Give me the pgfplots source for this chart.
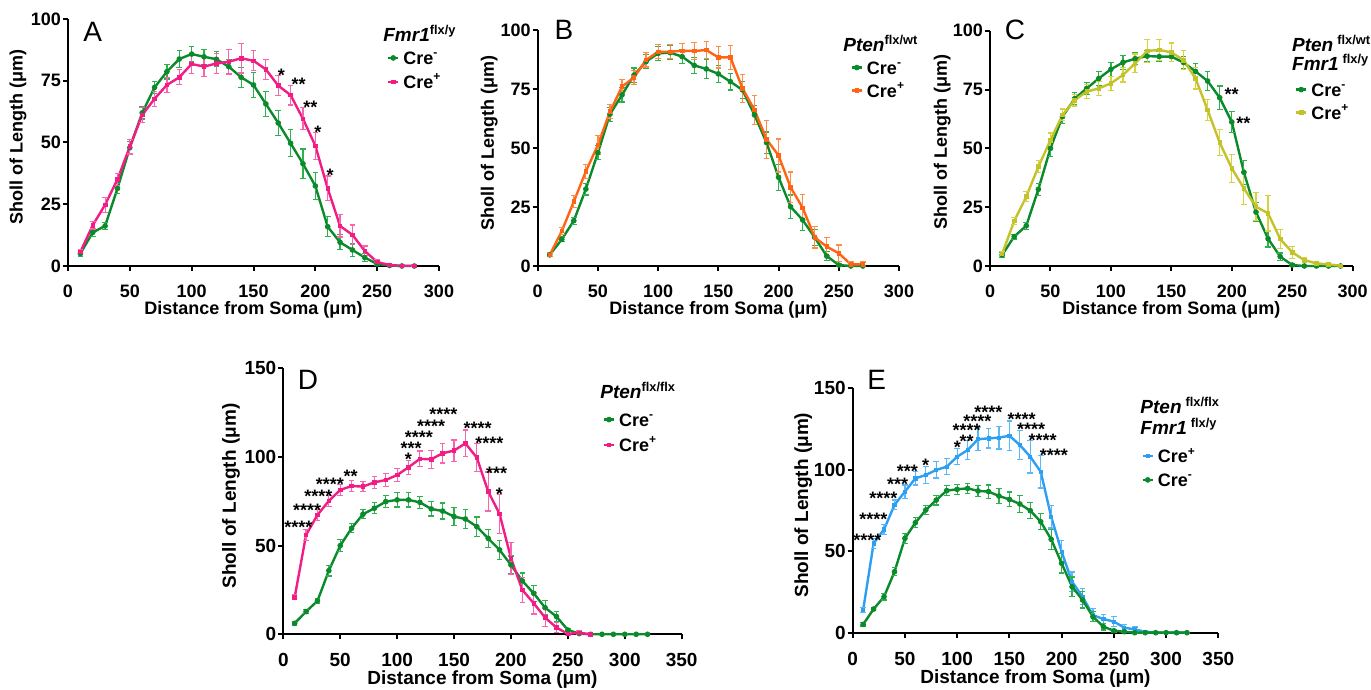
\documentclass[border=0pt]{standalone}
\usepackage{fontspec}
\setmainfont{Liberation Sans}
\usepackage{pgfplots}
\usepackage{pgfplotstable}
\pgfplotsset{compat=1.18}

\definecolor{gr}{HTML}{0B8A2C}
\definecolor{grl}{HTML}{2DB14F}
\definecolor{pk}{HTML}{F21C85}
\definecolor{pkl}{HTML}{F766AC}
\definecolor{orn}{HTML}{FF6414}
\definecolor{ornl}{HTML}{FF8C45}
\definecolor{yl}{HTML}{C4C22A}
\definecolor{yll}{HTML}{D6D33E}
\definecolor{bl}{HTML}{2C9FF2}
\definecolor{bll}{HTML}{5AB7FA}

% ---- data: x, mean, sem ----
\pgfplotstableread{
x y e
10 5.0 1
20 13.6 1.5
30 16.2 1.5
40 31.4 2
50 47.9 2.5
60 62.0 2.5
70 72.3 2.5
80 78.7 3
90 83.8 3.5
100 85.8 3
110 84.7 3
120 83.7 3
130 80.7 3
140 76.4 4
150 73.3 5
160 65.6 5
170 57.9 5
180 49.7 5.5
190 41.4 6
200 32.4 5.5
210 15.9 4
220 9.6 3
230 6.5 2.5
240 3.4 1.5
250 0.8 0.5
260 0.2 0.3
270 0 0.2
280 0 0.2
}\Agr
\pgfplotstableread{
x y e
10 5.7 1
20 16.5 1.5
30 24.8 3
40 35.1 2.5
50 48.3 3
60 61.1 3
70 67.7 3
80 73.3 3
90 76.4 3
100 81.8 4
110 80.7 4
120 82.0 4
130 82.7 5
140 84.1 6
150 83.1 4
160 79.6 4
170 73.0 4
180 69.2 4
190 59.6 4.5
200 48.7 5.5
210 31.4 5
220 16.2 4.5
230 12.6 4
240 6.1 2
250 1.6 1
260 0.4 0.5
270 0.1 0.3
280 0.1 0.3
}\Apk
\pgfplotstableread{
x y e
10 4.7 0.8
20 11.3 1
30 19.2 1.5
40 32.6 2.5
50 48.0 3
60 64.3 3
70 72.5 3
80 80.9 3
90 86.6 3
100 90.1 3
110 90.4 3
120 88.7 3
130 85.0 3.5
140 83.5 4
150 81.4 3.5
160 78.1 3.5
170 74.6 3.5
180 64.0 4
190 52.3 4.5
200 37.6 5.5
210 25.1 5
220 19.5 4.5
230 12.1 3.5
240 4.2 2
250 0.4 0.5
260 0 0.2
270 0 0.2
}\Bgr
\pgfplotstableread{
x y e
10 4.7 0.8
20 14.8 1.5
30 27.3 2.5
40 40.1 3
50 51.3 4
60 65.4 3
70 76.0 3
80 79.9 3
90 87.3 3
100 90.8 3
110 90.8 3
120 91.2 3
130 91.1 3.5
140 91.5 3.5
150 88.4 4.5
160 88.4 5
170 75.3 6
180 66.1 6
190 53.7 8
200 46.8 7
210 33.3 6.5
220 24.7 5.5
230 12.1 4.5
240 8.2 4
250 5.4 3.5
260 0.7 1
270 0.7 1
}\Bor
\pgfplotstableread{
x y e
10 4.7 1
20 12.5 1
30 17.1 1.5
40 32.6 2.5
50 50.0 3.5
60 63.5 3
70 71.1 2.5
80 75.5 2.5
90 79.7 3
100 83.6 3
110 86.5 3
120 88.1 2.5
130 89.2 2.5
140 89.0 2
150 89.0 2
160 86.5 2.5
170 82.7 3.5
180 78.6 4
190 71.5 5
200 61.2 4.5
210 39.8 5
220 22.9 4
230 11.6 3.5
240 4.0 1.5
250 0.4 0.5
260 0 0.2
270 0 0.2
280 0 0.2
290 0 0.2
}\Cgr
\pgfplotstableread{
x y e
10 5.1 1
20 19.1 1.5
30 29.5 2
40 42.2 2.5
50 53.5 3
60 64.2 2.5
70 70.5 2.5
80 74.1 3
90 75.5 3
100 77.6 3
110 81.2 3
120 86.1 4
130 91.4 5
140 91.8 4.5
150 90.8 4
160 87.5 4
170 79.7 4.5
180 66.3 4.5
190 52.4 5.5
200 41.5 6
210 33.0 7
220 25.2 6
230 22.4 7.5
240 11.5 4
250 5.8 2.5
260 2.5 1
270 1.1 0.5
280 0.7 0.5
290 0.1 0.3
}\Cyl
\pgfplotstableread{
x y e
10 6.2 1
20 12.8 1
30 18.8 1.5
40 35.9 3
50 50.0 3.5
60 59.8 2.5
70 67.7 2.5
80 71.1 3
90 74.8 3.5
100 75.8 4
110 75.8 4
120 74.4 3.5
130 70.7 4
140 69.5 4.5
150 66.4 5
160 65.0 5.5
170 60.7 5.5
180 54.1 5
190 47.6 5.5
200 39.1 5
210 30.1 4.5
220 23.1 4.5
230 15.0 4
240 10.0 3
250 2.4 1
260 0.4 0.5
270 0 0.2
280 0 0.2
290 0 0.2
300 0 0.2
310 0 0.2
320 0 0.2
}\Dgr
\pgfplotstableread{
x y e
10 20.9 1.5
20 56.0 3
30 67.3 3
40 75.2 3
50 81.4 3
60 83.6 3
70 83.3 3
80 85.7 3.5
90 87.0 3.5
100 89.8 3.5
110 94.2 4
120 98.9 4.5
130 98.7 5
140 102.1 5.5
150 103.6 6
160 107.7 7.5
170 99.6 8
180 80.5 11
190 67.9 11
200 42.9 9
210 25.0 7
220 17.5 6
230 9.4 5
240 3.8 3
250 0.2 1
260 0.9 1
270 0 0.3
}\Dpk
\pgfplotstableread{
x y e
10 13.9 1.5
20 54.8 3
30 63.4 3
40 78.4 3
50 86.6 4
60 94.7 4
70 96.8 5
80 99.9 5
90 101.9 5
100 108.0 5
110 112.1 6
120 118.7 7
130 119.3 6
140 119.7 7
150 120.9 9
160 115.2 9
170 108.0 10
180 98.8 10
190 71.2 7
200 49.7 7
210 31.3 6
220 22.1 5
230 10.8 4
240 8.4 3
250 6.8 3
260 3.1 2
270 2.0 1.5
280 0.6 0.5
290 0 0.3
300 0 0.2
310 0 0.2
320 0 0.2
}\Ebl
\pgfplotstableread{
x y e
10 5.1 1
20 14.5 1
30 22.1 2
40 37.4 2.5
50 57.9 3
60 67.5 3
70 75.3 3
80 81.4 3
90 87.2 3
100 88.0 3
110 88.6 3
120 87.0 3.5
130 86.6 4
140 83.9 4.5
150 81.8 4.5
160 79.0 5
170 74.9 5
180 68.1 5
190 57.3 6
200 42.6 6
210 28.2 6
220 20.1 5
230 9.8 3
240 3.7 2
250 1.2 1
260 0.6 0.5
270 0 0.2
280 0 0.2
290 0 0.2
300 0 0.2
310 0 0.2
320 0 0.2
}\Egr

\newcommand{\fs}[1]{\fontsize{#1}{#1}\selectfont}

\pgfplotsset{
  sholl/.style={
    scale only axis, clip=false,
    axis lines=left, axis line style={-, line width=1pt, black},
    tick align=outside, major tick length=2.5pt,
    every tick/.style={line width=1pt, black},
    xmin=0, ymin=0,
    /pgf/number format/assume math mode=true,
    ticklabel style={font=\fs{9}\bfseries},
    xticklabel style={yshift=-3.5pt},
    yticklabel style={xshift=2.5pt},
    label style={font=\fs{9}\bfseries},
    xlabel={Distance from Soma (μm)},
    ylabel={Sholl of Length (μm)},
    legend style={draw=none, fill=none, inner sep=0pt, outer sep=0pt,
      anchor=north west, font=\fs{9}\bfseries,
      cells={anchor=west, inner sep=0pt, text height=8pt, text depth=1pt},
      /tikz/every odd column/.append style={column sep=0pt}},
    legend image code/.code={%
      \draw[mark repeat=2, mark phase=2, #1] plot coordinates {(0pt,0pt) (2.5pt,0pt) (5pt,0pt)};},
  },
  ser/.style 2 args={color=#1, line width=1.2pt,
    mark options={solid, fill=#1, draw=#1, line width=0.4pt},
    /pgfplots/error bars/y dir=both, /pgfplots/error bars/y explicit,
    /pgfplots/error bars/error bar style={line width=0.6pt, color=#2},
    /pgfplots/error bars/error mark options={rotate=90, mark size=1.4pt, line width=0.6pt, color=#2}},
  gline/.style={ser={gr}{grl}, mark=*, mark size=1.2pt},
}
\tikzset{
  st/.style={font=\fs{9}\bfseries, anchor=base, yshift=-5pt, inner sep=0pt},
  ttl/.style={font=\fs{9.5}\bfseries\itshape, anchor=base west, inner sep=0pt},
  let/.style={font=\fs{14}, inner sep=0pt},
}
\newcommand{\supx}[1]{\textsuperscript{\upshape #1}}
\newcommand{\supt}[1]{\raisebox{3.6pt}{\fs{6.4}\bfseries\upshape #1}}

\begin{document}
\begin{tikzpicture}
\useasboundingbox (0,0) rectangle (685.5pt,345pt);

% ---------------- A ----------------
\begin{axis}[sholl, at={(34pt,212pt)}, width=185.5pt, height=123.5pt,
  xmax=300, ymax=100, xtick={0,50,...,300}, ytick={0,25,...,100},
  xlabel style={at={(axis description cs:0.5,-0.178)}, anchor=center},
  ylabel style={at={(axis description cs:-0.135,0.524)}, anchor=center},
  legend style={at={(0.860,0.897)}, row sep=-1.5pt}]
\addplot[gline] table[x=x, y=y, y error=e] {\Agr};
\addlegendentry{Cre\supx{-}}
\addplot[ser={pk}{pkl}, mark=square*, mark size=0.9pt] table[x=x, y=y, y error=e] {\Apk};
\addlegendentry{Cre\supx{+}}
\node[let] at (rel axis cs:0.0666,0.949) {A};
\node[ttl] at (rel axis cs:0.849,0.908) {Fmr1\supt{flx/y}};
\node[st] at (axis cs:172.5,78.7) {*};
\node[st] at (axis cs:186.5,75) {**};
\node[st] at (axis cs:196,65.6) {**};
\node[st] at (axis cs:202,55.7) {*};
\node[st] at (axis cs:212,38.2) {*};
\end{axis}

% ---------------- B ----------------
\begin{axis}[sholl, at={(268.85pt,212pt)}, width=180.65pt, height=118pt,
  xmax=300, ymax=100, xtick={0,50,...,300}, ytick={0,25,...,100},
  xlabel style={at={(axis description cs:0.5,-0.186)}, anchor=center},
  ylabel style={at={(axis description cs:-0.134,0.523)}, anchor=center},
  legend style={at={(0.866,0.898)}, row sep=-2pt}]
\addplot[gline] table[x=x, y=y, y error=e] {\Bgr};
\addlegendentry{Cre\supx{-}}
\addplot[ser={orn}{ornl}, mark=square*, mark size=0.9pt] table[x=x, y=y, y error=e] {\Bor};
\addlegendentry{Cre\supx{+}}
\node[let] at (rel axis cs:0.0728,1.0) {B};
\node[ttl] at (rel axis cs:0.845,0.908) {Pten\supt{flx/wt}};
\end{axis}

% ---------------- C ----------------
\begin{axis}[sholl, at={(495pt,212pt)}, width=181.35pt, height=117.65pt,
  xmax=300, ymax=100, xtick={0,50,...,300}, ytick={0,25,...,100},
  xlabel style={at={(axis description cs:0.5,-0.187)}, anchor=center},
  ylabel style={at={(axis description cs:-0.1315,0.525)}, anchor=center},
  legend style={at={(0.841,0.807)}, row sep=-2pt}]
\addplot[gline] table[x=x, y=y, y error=e] {\Cgr};
\addlegendentry{Cre\supx{-}}
\addplot[ser={yl}{yll}, mark=square*, mark size=0.9pt] table[x=x, y=y, y error=e] {\Cyl};
\addlegendentry{Cre\supx{+}}
\node[let] at (rel axis cs:0.0689,1.003) {C};
\node[ttl] at (rel axis cs:0.832,0.911) {Pten\hspace{2pt}\supt{flx/wt}};
\node[ttl] at (rel axis cs:0.832,0.830) {Fmr1\hspace{2pt}\supt{flx/y}};
\node[st] at (axis cs:199.9,74.4) {**};
\node[st] at (axis cs:209.5,62.3) {**};
\end{axis}

% ---------------- D ----------------
\begin{axis}[sholl, at={(141.65pt,27.85pt)}, width=199.2pt, height=133pt,
  xmax=350, ymax=150, xtick={0,50,...,350}, ytick={0,50,...,150},
  ticklabel style={font=\fs{9.5}\bfseries},
  label style={font=\fs{9.5}\bfseries},
  xlabel style={at={(axis description cs:0.5,-0.172)}, anchor=center},
  ylabel style={at={(axis description cs:-0.131,0.52)}, anchor=center},
  legend style={at={(0.802,0.858)}, row sep=-0.8pt}]
\addplot[gline] table[x=x, y=y, y error=e] {\Dgr};
\addlegendentry{Cre\supx{-}}
\addplot[ser={pk}{pkl}, mark=square*, mark size=0.9pt] table[x=x, y=y, y error=e] {\Dpk};
\addlegendentry{Cre\supx{+}}
\node[let] at (rel axis cs:0.062,0.956) {D};
\node[ttl] at (rel axis cs:0.795,0.887) {Pten\supt{flx/flx}};
\node[st] at (axis cs:13.2,62.6) {****};
\node[st] at (axis cs:21,72) {****};
\node[st] at (axis cs:30.8,79.9) {****};
\node[st] at (axis cs:41,87) {****};
\node[st] at (axis cs:59.2,91.2) {**};
\node[st] at (axis cs:109.8,100.8) {*};
\node[st] at (axis cs:112.2,107.1) {***};
\node[st] at (axis cs:119.2,113) {****};
\node[st] at (axis cs:129.8,119.4) {****};
\node[st] at (axis cs:140.6,126.1) {****};
\node[st] at (axis cs:170.8,118.4) {****};
\node[st] at (axis cs:181,110) {****};
\node[st] at (axis cs:187.5,93) {***};
\node[st] at (axis cs:189.8,81) {*};
\end{axis}

% ---------------- E ----------------
\begin{axis}[sholl, at={(426.35pt,28.65pt)}, width=182.8pt, height=122.2pt,
  xmax=350, ymax=150, xtick={0,50,...,350}, ytick={0,50,...,150},
  ticklabel style={font=\fs{9.5}\bfseries},
  label style={font=\fs{9.5}\bfseries},
  xlabel style={at={(axis description cs:0.5,-0.187)}, anchor=center},
  ylabel style={at={(axis description cs:-0.135,0.522)}, anchor=center},
  legend style={at={(0.790,0.777)}, row sep=-1.7pt}]
\addplot[ser={bl}{bll}, mark=square*, mark size=0.8pt] table[x=x, y=y, y error=e] {\Ebl};
\addlegendentry{Cre\supx{+}}
\addplot[gline] table[x=x, y=y, y error=e] {\Egr};
\addlegendentry{Cre\supx{-}}
\node[let] at (rel axis cs:0.0657,1.034) {E};
\node[ttl] at (rel axis cs:0.786,0.898) {Pten\hspace{2pt}\supt{flx/flx}};
\node[ttl] at (rel axis cs:0.786,0.809) {Fmr1\hspace{2pt}\supt{flx/y}};
\node[st] at (axis cs:14,58.9) {****};
\node[st] at (axis cs:19.8,72) {****};
\node[st] at (axis cs:29.4,84.7) {****};
\node[st] at (axis cs:43,93.3) {***};
\node[st] at (axis cs:52.3,101.5) {***};
\node[st] at (axis cs:69.9,105) {*};
\node[st] at (axis cs:100.2,116.2) {*};
\node[st] at (axis cs:109,119.9) {**};
\node[st] at (axis cs:109,126.5) {****};
\node[st] at (axis cs:119.3,132.2) {****};
\node[st] at (axis cs:129.9,137.7) {****};
\node[st] at (axis cs:161.8,133.6) {****};
\node[st] at (axis cs:170.7,127.1) {****};
\node[st] at (axis cs:181.9,120.3) {****};
\node[st] at (axis cs:192.7,111.1) {****};
\end{axis}
\end{tikzpicture}
\end{document}
